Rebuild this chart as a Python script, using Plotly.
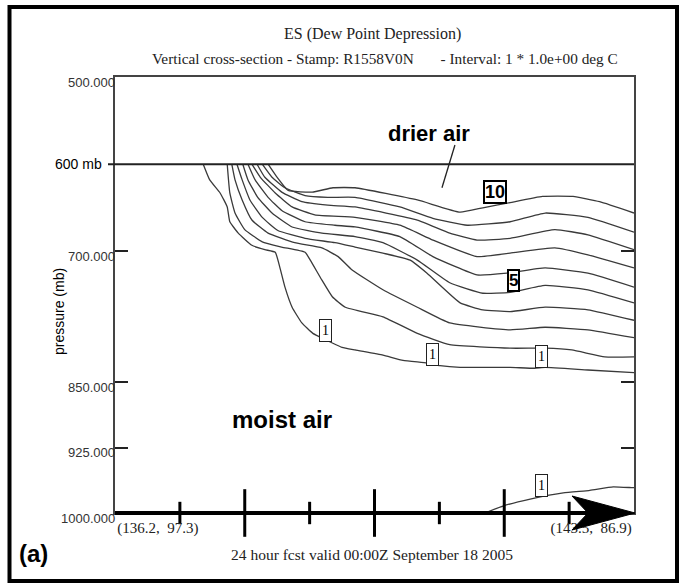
import plotly.graph_objects as go

# ---------------- data ----------------
# x: distance along the cross-section (tick intervals, 0 = left end, 8 = right end)
# p: pressure (mb)
dpd1_x = [1.36, 1.46, 1.62, 1.73, 1.77, 1.90, 2.11, 2.31, 2.47, 2.54, 2.62, 2.73, 2.88, 3.05, 3.24, 3.35, 3.50, 3.70, 4.13, 4.44, 4.81, 5.01, 5.32, 5.67, 6.09, 6.47, 6.63, 7.29, 8.0]
dpd1_p = [600, 618, 633, 649, 666, 679, 693, 698, 701, 718, 741, 764, 782, 794, 801, 805, 810, 813, 819, 825, 828, 831, 833, 833, 833, 834, 833, 836, 839]
dpd2_x = [1.73, 1.77, 1.85, 2.00, 2.27, 2.57, 2.93, 3.01, 3.19, 3.35, 3.55, 4.13, 4.66, 5.16, 6.09, 6.63, 7.04, 7.55, 8.0]
dpd2_p = [600, 633, 656, 675, 689, 695, 701, 710, 733, 752, 764, 775, 794, 807, 811, 811, 813, 821, 821]
dpd3_x = [1.80, 1.85, 1.96, 2.11, 2.36, 2.77, 3.19, 3.44, 3.65, 4.13, 4.66, 5.16, 6.09, 6.63, 7.29, 8.0]
dpd3_p = [600, 618, 641, 664, 679, 690, 696, 706, 721, 744, 764, 782, 790, 787, 790, 799]
dpd4_x = [1.88, 1.96, 2.08, 2.27, 2.51, 2.93, 3.39, 3.70, 4.13, 4.55, 4.81, 5.32, 5.67, 6.09, 6.63, 7.29, 8.0]
dpd4_p = [600, 618, 641, 661, 676, 685, 690, 695, 702, 710, 725, 759, 767, 769, 764, 767, 779]
dpd5_x = [1.97, 2.05, 2.20, 2.42, 2.73, 3.19, 3.70, 4.13, 4.66, 5.16, 5.67, 6.09, 6.63, 7.29, 8.0]
dpd5_p = [600, 618, 638, 656, 672, 679, 683, 690, 710, 736, 748, 747, 739, 744, 759]
dpd6_x = [2.05, 2.16, 2.36, 2.57, 2.93, 3.39, 3.70, 4.39, 4.90, 5.58, 6.04, 6.63, 7.29, 8.0]
dpd6_p = [600, 618, 638, 653, 666, 670, 672, 683, 706, 727, 725, 719, 725, 741]
dpd7_x = [2.11, 2.24, 2.47, 2.73, 3.08, 3.70, 4.39, 4.90, 5.58, 6.09, 6.78, 7.29, 8.0]
dpd7_p = [600, 615, 633, 649, 658, 661, 670, 687, 706, 702, 696, 704, 719]
dpd8_x = [2.19, 2.31, 2.57, 2.88, 3.28, 3.70, 4.66, 5.16, 5.58, 6.09, 6.78, 7.29, 8.0]
dpd8_p = [600, 615, 632, 643, 647, 649, 664, 679, 687, 685, 675, 681, 698]
dpd9_x = [2.27, 2.42, 2.62, 2.93, 3.28, 3.70, 4.39, 4.90, 5.43, 6.09, 6.63, 7.29, 8.0]
dpd9_p = [600, 615, 627, 636, 638, 638, 649, 662, 670, 666, 656, 661, 678]
dpd10_x = [2.36, 2.47, 2.67, 3.04, 3.36, 3.70, 4.66, 5.32, 5.67, 6.09, 6.59, 7.06, 7.47, 8.0]
dpd10_p = [600, 612, 630, 632, 627, 627, 641, 655, 650, 644, 637, 637, 643, 656]
# surface contour (1 deg C) near 1000 mb
dpd_sfc_x = [5.70, 5.98, 6.40, 6.91, 7.32, 7.68, 7.98, 8.0]
dpd_sfc_p = [1000, 992, 984, 977, 974, 970, 971, 971]

# contour labels
small_label_text = ["1", "1", "1", "1"]
small_label_x = [3.24, 4.90, 6.58, 6.58]
small_label_p = [791, 818, 820, 969]
big_label_text = ["10", "5"]
big_label_x = [5.86, 6.15]
big_label_p = [632, 733]

# axes
p_ticks = [500, 700, 850, 925, 1000]
p_tick_labels = ["500.000", "700.000", "850.000", "925.000", "1000.000"]
x_major_ticks = [2, 4, 6]
x_minor_ticks = [1, 3, 5, 7]
end_labels = ["(136.2,\u00a0 97.3)", "(143.5,\u00a0 86.9)"]
end_label_pos = [0.66, 7.34]

contours = [(dpd1_x, dpd1_p), (dpd2_x, dpd2_p), (dpd3_x, dpd3_p), (dpd4_x, dpd4_p),
            (dpd5_x, dpd5_p), (dpd6_x, dpd6_p), (dpd7_x, dpd7_p), (dpd8_x, dpd8_p),
            (dpd9_x, dpd9_p), (dpd10_x, dpd10_p), (dpd_sfc_x, dpd_sfc_p)]

SERIF = "Liberation Serif"
SANS = "Liberation Sans"

# plot-area geometry (px) used to place decorations in paper coordinates
L, R, T, B = 115, 51, 77, 71
W, H = 685, 584
PW, PH = W - L - R, H - T - B


def px(x):
    return (x - L) / PW


def py(y):
    return (H - B - y) / PH


fig = go.Figure()
for cx, cp in contours:
    fig.add_trace(go.Scatter(x=cx, y=cp, mode="lines",
                             line=dict(color="#3a3a3a", width=1.3, shape="spline", smoothing=0.4),
                             hoverinfo="skip", showlegend=False))

# crossing tick marks on the thick distance axis
fig.add_trace(go.Scatter(x=x_major_ticks, y=[1000] * len(x_major_ticks), mode="markers",
                         marker=dict(symbol="line-ns", size=34, color="black",
                                     line=dict(width=3, color="black")),
                         cliponaxis=False, hoverinfo="skip", showlegend=False))
fig.add_trace(go.Scatter(x=x_minor_ticks, y=[1000] * len(x_minor_ticks), mode="markers",
                         marker=dict(symbol="line-ns", size=16, color="black",
                                     line=dict(width=3, color="black")),
                         cliponaxis=False, hoverinfo="skip", showlegend=False))

shapes = [
    # outer frame
    dict(type="rect", xref="paper", yref="paper", x0=px(9.5), x1=px(677), y0=py(581), y1=py(7),
         line=dict(color="black", width=4), fillcolor="rgba(0,0,0,0)", layer="above"),
    # 600 mb line
    dict(type="line", xref="paper", yref="y", x0=px(108), x1=1, y0=600, y1=600,
         line=dict(color="#222", width=2)),
    # thick distance axis (along the bottom of the plot area)
    dict(type="line", xref="paper", yref="paper", x0=0, x1=0.95, y0=0, y1=0,
         line=dict(color="black", width=4)),
    # arrow head at the right end of the distance axis
    dict(type="path", xref="paper", yref="paper", xsizemode="pixel", ysizemode="pixel",
         xanchor=1, yanchor=0, path="M 1,0 L -62,17 L -46,0 L -62,-17 Z",
         fillcolor="black", line=dict(color="black", width=1)),
    # pointer for "drier air"
    dict(type="line", xref="x", yref="y", x0=5.24, x1=5.04, y0=578, y1=627,
         line=dict(color="#222", width=1.3)),
]


def note(text, x, y, **kw):
    d = dict(text=text, xref="paper", yref="paper", x=x, y=y, showarrow=False,
             xanchor="center", yanchor="middle")
    d.update(kw)
    return d


ann = []
ann.append(note("ES (Dew Point Depression)", px(372), py(34),
                font=dict(family=SERIF, size=16, color="#222")))
ann.append(note("Vertical cross-section - Stamp: R1558V0N \u00a0\u00a0\u00a0\u00a0\u00a0 - Interval: 1 * 1.0e+00 deg C",
                px(385), py(59), font=dict(family=SERIF, size=15.3, color="#222")))
ann.append(note("24 hour fcst valid 00:00Z September 18 2005", px(372), py(554),
                font=dict(family=SERIF, size=15.5, color="#222")))
ann.append(note("(a)", px(33), py(553), font=dict(family=SANS, size=24, color="black", weight="bold")))
ann.append(note("pressure (mb)", px(59), py(312), textangle=-90,
                font=dict(family=SANS, size=14, color="black")))
ann.append(dict(text="600 mb", xref="paper", yref="y", x=px(104), y=600, xanchor="right",
                yanchor="middle", showarrow=False, font=dict(family=SANS, size=14, color="black")))
for val, lab in zip(p_ticks, p_tick_labels):
    ann.append(dict(text=lab, xref="paper", yref="y", x=0, y=val, xanchor="right", yanchor="middle",
                    xshift=2, yshift=-5, showarrow=False,
                    font=dict(family=SANS, size=13, color="#333")))
ann.append(dict(text="drier air", xref="x", yref="y", x=4.84, y=565, showarrow=False,
                font=dict(family=SANS, size=22, color="black", weight="bold")))
ann.append(dict(text="moist air", xref="x", yref="y", x=2.58, y=893, showarrow=False,
                font=dict(family=SANS, size=24, color="black", weight="bold")))
for t, lx, lp in zip(small_label_text, small_label_x, small_label_p):
    ann.append(dict(text=t, xref="x", yref="y", x=lx, y=lp, showarrow=False,
                    font=dict(family=SERIF, size=14, color="black"),
                    bgcolor="white", bordercolor="#222", borderwidth=1, borderpad=1,
                    width=9, height=19))
for t, lx, lp in zip(big_label_text, big_label_x, big_label_p):
    ann.append(dict(text=t, xref="x", yref="y", x=lx, y=lp, showarrow=False,
                    font=dict(family=SANS, size=18 if len(t) > 1 else 17, color="black", weight="bold"),
                    bgcolor="white", bordercolor="black", borderwidth=2, borderpad=0))

fig.update_layout(
    width=W, height=H, margin=dict(l=L, r=R, t=T, b=B),
    paper_bgcolor="white", plot_bgcolor="white", showlegend=False,
    xaxis=dict(range=[0, 8], showgrid=False, zeroline=False, showline=True, linecolor="#444",
               linewidth=1.5, mirror=True, tickvals=end_label_pos, ticktext=end_labels, ticks="",
               tickfont=dict(family=SERIF, size=15, color="#222")),
    yaxis=dict(range=[1000, 500], showgrid=False, zeroline=False, showline=True, linecolor="#444",
               linewidth=1.5, mirror="ticks", tickvals=p_ticks, ticks="inside", ticklen=13,
               tickwidth=2, tickcolor="#222", showticklabels=False),
    shapes=shapes, annotations=ann,
)

# remove the browser's default 8px page margin so the figure sits at the window origin
fig.write_html("out.html", config={"displayModeBar": False},
               post_script="document.body.style.margin='0';")
